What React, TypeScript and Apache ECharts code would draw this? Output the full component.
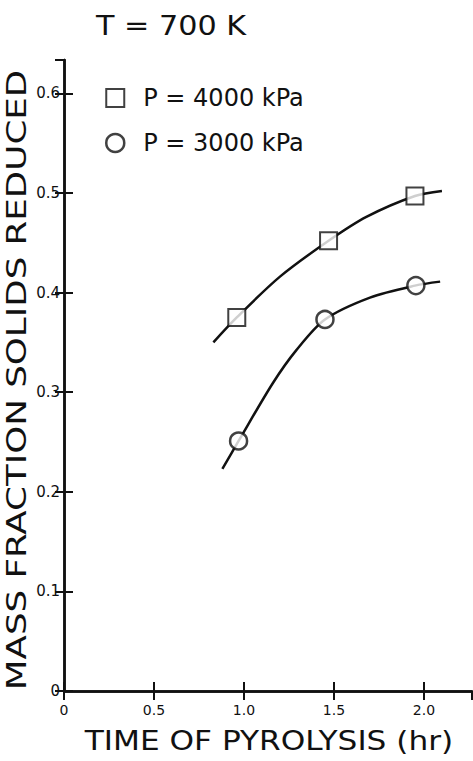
import React, { useEffect, useRef } from "react";
import * as echarts from "echarts";

const p4000X = [0.96, 1.47, 1.95];
const p4000Y = [0.375, 0.452, 0.497];
const p3000X = [0.97, 1.45, 1.955];
const p3000Y = [0.251, 0.373, 0.407];
const fit4000X = [0.83, 0.96, 1.2, 1.47, 1.68, 1.95, 2.1];
const fit4000Y = [0.35, 0.375, 0.416, 0.452, 0.476, 0.497, 0.502];
const fit3000X = [0.88, 0.97, 1.16, 1.29, 1.45, 1.7, 1.95, 2.09];
const fit3000Y = [0.223, 0.251, 0.309, 0.342, 0.373, 0.395, 0.407, 0.411];
const seriesNames = ["P = 4000 kPa", "P = 3000 kPa"];
const titleText = "T = 700 K";
const xName = "TIME OF PYROLYSIS (hr)";
const yName = "MASS FRACTION SOLIDS REDUCED";

const FONT = "DejaVu Sans";

const zip = (xs: number[], ys: number[]) => xs.map((x, i) => [x, ys[i]]);

export default function App() {
  const ref = useRef<HTMLDivElement>(null);
  useEffect(() => {
    if (!ref.current) return;
    const chart = echarts.init(ref.current, undefined, { renderer: "svg" });
    const axisLine = { show: true, lineStyle: { color: "#111", width: 2.5 } };
    const tick = { show: true, inside: true, length: 9, lineStyle: { color: "#111", width: 2 } };
    chart.setOption({
      animation: false,
      backgroundColor: "#fff",
      grid: { left: 64, right: 1, top: 60, bottom: 70, containLabel: false, outerBoundsMode: "none" },
      graphic: [
        {
          type: "text",
          x: 171,
          y: 26,
          scaleX: 1.12,
          style: {
            text: titleText,
            fontFamily: FONT,
            fontSize: 27,
            fill: "#111",
            textAlign: "center",
            textVerticalAlign: "middle",
          },
        },
        {
          type: "text",
          x: 269,
          y: 741,
          scaleX: 1.2,
          style: {
            text: xName,
            fontFamily: FONT,
            fontSize: 26,
            fill: "#111",
            textAlign: "center",
            textVerticalAlign: "middle",
          },
        },
        {
          type: "text",
          x: 17,
          y: 380,
          rotation: Math.PI / 2,
          scaleX: 1.32,
          style: {
            text: yName,
            fontFamily: FONT,
            fontSize: 27,
            fill: "#111",
            textAlign: "center",
            textVerticalAlign: "middle",
          },
        },
      ],
      legend: {
        orient: "vertical",
        left: 100,
        top: 81,
        itemWidth: 18,
        itemHeight: 18,
        itemGap: 21,
        textStyle: { fontFamily: FONT, fontSize: 24, color: "#111", padding: [0, 0, 0, 14] },
        data: [
          { name: seriesNames[0], icon: "rect", itemStyle: { color: "#fff", borderColor: "#111", borderWidth: 2 } },
          { name: seriesNames[1], icon: "circle", itemStyle: { color: "#fff", borderColor: "#111", borderWidth: 2.5 } },
        ],
      },
      xAxis: [
        {
          type: "value",
          min: 0,
          max: 2.267,
          interval: 0.5,
          position: "bottom",
          axisLine,
          axisTick: tick,
          splitLine: { show: false },
          axisLabel: {
            fontFamily: FONT,
            fontSize: 14,
            color: "#111",
            margin: 12,
            showMaxLabel: false,
            formatter: (v: number) => (v === 0 ? "0" : v.toFixed(1)),
          },
        },
        {
          type: "value",
          min: 0,
          max: 2.267,
          interval: 0.5,
          position: "top",
          axisLine,
          axisTick: tick,
          axisLabel: { show: false },
          splitLine: { show: false },
        },
      ],
      yAxis: [
        {
          type: "value",
          min: 0,
          max: 0.6335,
          interval: 0.1,
          position: "left",
          axisLine,
          axisTick: tick,
          splitLine: { show: false },
          axisLabel: {
            fontFamily: FONT,
            fontSize: 15,
            color: "#111",
            margin: 4,
            showMaxLabel: false,
            formatter: (v: number) => (v === 0 ? "0" : v.toFixed(1)),
          },
        },
        {
          type: "value",
          min: 0,
          max: 0.6335,
          interval: 0.1,
          position: "right",
          axisLine,
          axisTick: tick,
          axisLabel: { show: false },
          splitLine: { show: false },
        },
      ],
      series: [
        {
          name: "fit4000",
          type: "line",
          data: zip(fit4000X, fit4000Y),
          smooth: 0.3,
          showSymbol: false,
          symbol: "none",
          lineStyle: { color: "#111", width: 2.5 },
          z: 2,
        },
        {
          name: "fit3000",
          type: "line",
          data: zip(fit3000X, fit3000Y),
          smooth: 0.3,
          showSymbol: false,
          symbol: "none",
          lineStyle: { color: "#111", width: 2.5 },
          z: 2,
        },
        {
          name: seriesNames[0],
          type: "scatter",
          data: zip(p4000X, p4000Y),
          symbol: "rect",
          symbolSize: 17,
          itemStyle: { color: "#fff", borderColor: "#111", borderWidth: 2 },
          z: 5,
        },
        {
          name: seriesNames[1],
          type: "scatter",
          data: zip(p3000X, p3000Y),
          symbol: "circle",
          symbolSize: 17,
          itemStyle: { color: "#fff", borderColor: "#111", borderWidth: 2.5 },
          z: 5,
        },
      ],
    });
    return () => chart.dispose();
  }, []);
  return <div ref={ref} style={{ width: 473, height: 761, position: "fixed", left: 0, top: 0 }} />;
}
